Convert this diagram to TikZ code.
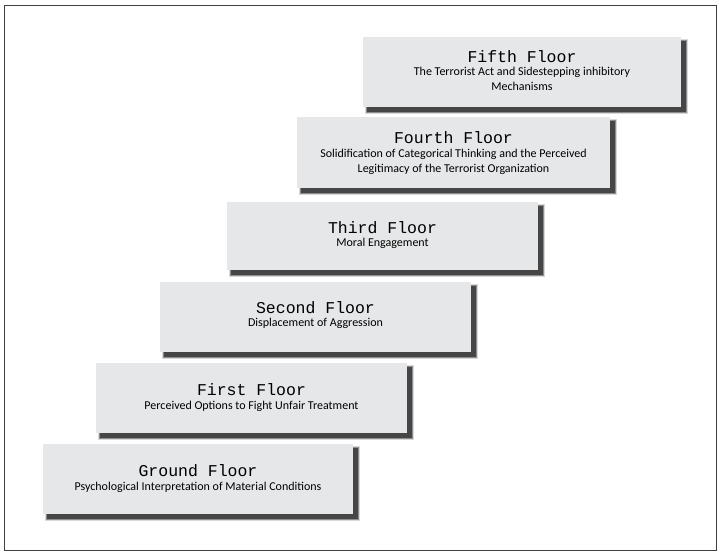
\documentclass[tikz,border=0pt]{standalone}
\usepackage{fontspec}
\setmainfont{Carlito}
\newfontfamily\monof{Liberation Mono}
\definecolor{boxgray}{HTML}{E6E7E8}
\tikzset{
  floor/.style={draw=none, fill=boxgray, anchor=north west, inner sep=0pt, outer sep=0pt},
  ttl/.style={font=\monof\fontsize{16.5}{18}\selectfont, inner sep=0pt},
  sub/.style={font=\fontsize{12}{15}\selectfont, align=center, inner sep=0pt, anchor=north},
}
\begin{document}
\begin{tikzpicture}[x=1pt,y=-1pt]
\useasboundingbox (0,0) rectangle (720,554);
\fill[white] (0,0) rectangle (720,554);
\draw[line width=1.6pt, black!75] (4.5,5.5) rectangle (716.5,550.5);
\foreach \xa/\ya/\xb/\yb in {363/37/681/107, 297/117/610/188, 227/202/538/270, 160/282/471/352, 96/363/407/433, 43/444/353/514}{
  \fill[black, opacity=0.15] (\xa+2,\ya+2) rectangle (\xb+6.5,\yb+6.5);
  \fill[black, opacity=0.35] (\xa+3,\ya+3) rectangle (\xb+5.5,\yb+5.5);
  \fill[black, opacity=0.5] (\xa+4,\ya+4) rectangle (\xb+4.5,\yb+4.5);
}
\node[floor, minimum width=318pt, minimum height=70pt] (f5) at (363,37) {};
\node[floor, minimum width=313pt, minimum height=71pt] (f4) at (297,117) {};
\node[floor, minimum width=311pt, minimum height=68pt] (f3) at (227,202) {};
\node[floor, minimum width=311pt, minimum height=70pt] (f2) at (160,282) {};
\node[floor, minimum width=311pt, minimum height=70pt] (f1) at (96,363) {};
\node[floor, minimum width=310pt, minimum height=70pt] (f0) at (43,444) {};
\node[ttl] (t5) at ([yshift=-20pt]f5.north) {Fifth Floor};
\node[sub] (s5) at ([yshift=-30pt]f5.north) {The Terrorist Act and Sidestepping inhibitory\\Mechanisms};
\node[ttl] (t4) at ([yshift=-21pt]f4.north) {Fourth Floor};
\node[sub] (s4) at ([yshift=-32pt]f4.north) {Solidification of Categorical Thinking and the Perceived\\Legitimacy of the Terrorist Organization};
\node[ttl] (t3) at ([yshift=-26pt]f3.north) {Third Floor};
\node[sub] (s3) at ([yshift=-36pt]f3.north) {Moral Engagement};
\node[ttl] (t2) at ([yshift=-26pt]f2.north) {Second Floor};
\node[sub] (s2) at ([yshift=-36pt]f2.north) {Displacement of Aggression};
\node[ttl] (t1) at ([yshift=-27pt]f1.north) {First Floor};
\node[sub] (s1) at ([yshift=-38pt]f1.north) {Perceived Options to Fight Unfair Treatment};
\node[ttl] (t0) at ([yshift=-27pt]f0.north) {Ground Floor};
\node[sub] (s0) at ([yshift=-38pt]f0.north) {Psychological Interpretation of Material Conditions};
\end{tikzpicture}
\end{document}
